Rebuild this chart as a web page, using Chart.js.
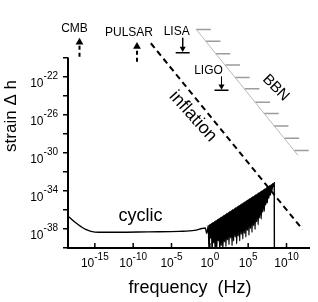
<!DOCTYPE html>
<html>
<head>
<meta charset="utf-8">
<script src="https://cdn.jsdelivr.net/npm/chart.js@4.4.0/dist/chart.umd.min.js"></script>
<style>
  html, body { margin: 0; padding: 0; background: #fff; }
  canvas { display: block; }
</style>
</head>
<body>
<canvas id="grafico" width="318" height="302"></canvas>
<script>
// all values are log10 exponents
const xTicks = [-15, -10, -5, 0, 5, 10];
const yTicks = [-40, -38, -36, -34, -32, -30, -28, -26, -24, -22, -20];
const yLabels = [-22, -26, -30, -34, -38];

// inflation (dashed)
const inflationF = [-7.7, 12.1];
const inflationH = [-18.5, -38.1];

// BBN bound (grey) and its hatches
const bbnF = [-1.77, 11.5];
const bbnH = [-17.05, -30.3];
const bbnHatchF = [-1.77, -0.51, 0.76, 2.03, 3.29, 4.56, 5.95, 7.09, 8.35, 9.75, 11.0];
const bbnHatchH = [-17.05, -18.3, -19.6, -20.8, -22.1, -23.3, -24.7, -25.9, -27.2, -28.5, -29.8];
const hatchLen = 1.9;

// cyclic model: smooth part
const cyclicF = [-18.5, -18.0, -17.4, -16.8, -16.2, -15.5, -14.5, -12.0, -8.0, -4.0, -2.0, -1.0, -0.6, -0.5, -0.42, -0.32];
const cyclicH = [-36.7, -37.05, -37.45, -37.8, -38.1, -38.3, -38.4, -38.4, -38.35, -38.3, -38.2, -38.0, -37.95, -38.2, -38.5, -38.3];
// cyclic model: oscillating part (peaks and dips)
const oscPeakF = [-0.2, 0.0, 0.2, 0.4, 0.6, 0.8, 1.0, 1.2, 1.4, 1.6, 1.8, 2.0, 2.2, 2.4, 2.6, 2.8, 3.0, 3.2, 3.4, 3.6, 3.8, 4.0,
  4.2, 4.4, 4.6, 4.8, 5.0, 5.2, 5.4, 5.6, 5.8, 6.0, 6.2, 6.4, 6.6, 6.8, 7.0, 7.2, 7.4, 7.6, 7.8, 8.0, 8.2, 8.4];
const oscPeakH = [-37.67, -37.57, -37.46, -37.36, -37.26, -37.15, -37.05, -36.94, -36.84, -36.73, -36.63, -36.52, -36.42,
  -36.31, -36.21, -36.10, -36.00, -35.90, -35.79, -35.69, -35.58, -35.48, -35.37, -35.27, -35.16, -35.06, -34.95, -34.85,
  -34.74, -34.64, -34.54, -34.43, -34.33, -34.22, -34.12, -34.01, -33.91, -33.80, -33.70, -33.59, -33.49, -33.38, -33.28, -33.17];
const oscDipF = [-0.1, 0.1, 0.3, 0.5, 0.7, 0.9, 1.1, 1.3, 1.5, 1.7, 1.9, 2.1, 2.3, 2.5, 2.7, 2.9, 3.1, 3.3, 3.5, 3.7, 3.9,
  4.1, 4.3, 4.5, 4.7, 4.9, 5.1, 5.3, 5.5, 5.7, 5.9, 6.1, 6.3, 6.5, 6.7, 6.9, 7.1, 7.3, 7.5, 7.7, 7.9, 8.1, 8.3];
const oscDipH = [-40.5, -39.0, -40.5, -39.5, -40.5, -40.2, -39.3, -40.5, -39.8, -40.3, -39.4, -39.9, -39.2, -39.7, -39.0,
  -39.8, -39.3, -38.9, -39.6, -38.8, -39.3, -38.6, -39.1, -38.5, -38.9, -38.2, -38.7, -38.0, -38.4, -37.7, -38.1, -37.3,
  -37.6, -36.9, -37.0, -36.3, -36.2, -35.5, -35.3, -34.8, -34.5, -34.0, -33.6];
const cutoffF = 8.42;
const cutoffH = -41;
// solid core of the oscillations (upper envelope and lower edge)
const coreTopF = [-0.2, 8.4];
const coreTopH = [-37.67, -33.17];
const coreLowF = [-0.2, 1.5, 3.0, 4.5, 6.0, 7.3, 8.4];
const coreLowH = [-38.5, -38.2, -37.8, -37.3, -36.6, -35.5, -33.17];

// upper limits (dashed arrows pointing up)
const limitNames = ["CMB", "PULSAR"];
const limitF = [-17.0, -9.5];
const limitHead = [-18.4, -18.83];
const limitBottom = [-19.93, -20.45];

// detector sensitivities (arrows pointing down onto a bar)
const detNames = ["LISA", "LIGO"];
const detF = [-3.54, 1.52];
const detTop = [-17.93, -22.02];
const detHead = [-19.04, -23.02];
const detBar = [-19.5, -23.44];

const FONT = "'Liberation Sans', Arial, Helvetica, sans-serif";

// building point lists
const pts = (fs, hs) => fs.map((f, i) => ({ x: f, y: hs[i] }));

const oscPts = [];
oscPeakF.forEach((f, i) => {
  oscPts.push({ x: f, y: oscPeakH[i] });
  if (i < oscDipF.length) oscPts.push({ x: oscDipF[i], y: oscDipH[i] });
});
const cyclicPts = pts(cyclicF, cyclicH).concat(oscPts, [{ x: cutoffF, y: cutoffH }]);

const hatchPts = [];
bbnHatchF.forEach((f, i) => {
  hatchPts.push({ x: f, y: bbnHatchH[i] }, { x: f + hatchLen, y: bbnHatchH[i] }, { x: f, y: null });
});

const limitStems = [];
limitF.forEach((f, i) => {
  limitStems.push({ x: f, y: limitBottom[i] }, { x: f, y: limitHead[i] }, { x: f, y: null });
});
const detStems = [];
detF.forEach((f, i) => {
  detStems.push({ x: f, y: detTop[i] }, { x: f, y: detHead[i] }, { x: f, y: null });
});

// text labels: 10 with superscript exponent
function drawPower(ctx, exp, left, base, supBase) {
  ctx.font = "12px " + FONT;
  ctx.fillText("10", left, base);
  const w = ctx.measureText("10").width;
  ctx.font = "10px " + FONT;
  ctx.fillText(String(exp), left + w, supBase);
}
function powerWidth(ctx, exp) {
  ctx.font = "12px " + FONT;
  const a = ctx.measureText("10").width;
  ctx.font = "10px " + FONT;
  return a + ctx.measureText(String(exp)).width;
}

const decorPlugin = {
  id: "decor",
  afterDatasetsDraw(chart) {
    const { ctx, chartArea, scales } = chart;
    const x = scales.x, y = scales.y;
    ctx.save();
    ctx.strokeStyle = "#000";
    ctx.fillStyle = "#000";

    // y axis line only goes up to 1e-20
    ctx.lineWidth = 2;
    ctx.beginPath();
    ctx.moveTo(chartArea.left, y.getPixelForValue(-20));
    ctx.lineTo(chartArea.left, chartArea.bottom + 1);
    ctx.stroke();

    // x ticks point inwards
    ctx.lineWidth = 1.5;
    xTicks.forEach(v => {
      const px = x.getPixelForValue(v);
      ctx.beginPath();
      ctx.moveTo(px, chartArea.bottom);
      ctx.lineTo(px, chartArea.bottom - 5);
      ctx.stroke();
    });

    ctx.textAlign = "left";
    ctx.textBaseline = "alphabetic";
    xTicks.forEach(v => {
      const px = x.getPixelForValue(v);
      const w = powerWidth(ctx, v);
      drawPower(ctx, v, px - w / 2, chartArea.bottom + 19, chartArea.bottom + 12);
    });
    yLabels.forEach(v => {
      const py = y.getPixelForValue(v);
      const w = powerWidth(ctx, v);
      drawPower(ctx, v, chartArea.left - 10 - w, py + 10, py + 2);
    });

    // arrow labels
    ctx.font = "12px " + FONT;
    ctx.textAlign = "center";
    const limitOff = [[-5, -9], [-8, -9]];
    limitNames.forEach((n, i) => {
      const px = x.getPixelForValue(limitF[i]);
      const py = y.getPixelForValue(limitHead[i]) - 4.5;
      ctx.textBaseline = "middle";
      ctx.fillText(n, px + limitOff[i][0], py + limitOff[i][1]);
    });
    const detOff = [[-6, -6], [-13, -6]];
    detNames.forEach((n, i) => {
      const px = x.getPixelForValue(detF[i]);
      const py = y.getPixelForValue(detTop[i]);
      ctx.fillText(n, px + detOff[i][0], py + detOff[i][1]);
    });

    // curve labels
    ctx.textBaseline = "alphabetic";
    ctx.textAlign = "left";
    ctx.font = "18px " + FONT;
    ctx.fillText("cyclic", x.getPixelForValue(-11.9), y.getPixelForValue(-37.22));

    ctx.textBaseline = "middle";
    ctx.textAlign = "center";
    ctx.save();
    ctx.translate(x.getPixelForValue(-2.2), y.getPixelForValue(-26.2));
    ctx.rotate(48 * Math.PI / 180);
    ctx.fillText("inflation", 0, 0);
    ctx.restore();

    ctx.save();
    ctx.font = "15px " + FONT;
    ctx.translate(x.getPixelForValue(8.6), y.getPixelForValue(-23.2));
    ctx.rotate(45 * Math.PI / 180);
    ctx.fillText("BBN", 0, 0);
    ctx.restore();

    // axis titles
    ctx.font = "18px " + FONT;
    ctx.fillText("frequency  (Hz)", 190, 288);
    ctx.save();
    ctx.translate(11, 116);
    ctx.rotate(-Math.PI / 2);
    ctx.font = "17px " + FONT;
    ctx.fillText("strain \u0394 h", 0, 0);
    ctx.restore();

    ctx.restore();
  }
};

const ctx = document.getElementById("grafico").getContext("2d");

const config = {
  type: "line",
  data: {
    datasets: [
      {
        data: pts(bbnF, bbnH),
        borderColor: "#b8b8b8",
        borderWidth: 1,
        pointRadius: 0,
      },
      {
        data: hatchPts,
        borderColor: "#9c9c9c",
        borderWidth: 1.5,
        pointRadius: 0,
        spanGaps: false,
      },
      {
        data: pts(inflationF, inflationH),
        borderColor: "#000",
        borderWidth: 2,
        borderDash: [6, 4],
        pointRadius: 0,
      },
      {
        data: pts(coreTopF, coreTopH),
        borderWidth: 0,
        pointRadius: 0,
        fill: "+1",
        backgroundColor: "#000",
      },
      {
        data: pts(coreLowF, coreLowH),
        borderWidth: 0,
        pointRadius: 0,
      },
      {
        data: cyclicPts,
        borderColor: "#000",
        borderWidth: 1.4,
        pointRadius: 0,
        cubicInterpolationMode: "monotone",
      },
      {
        data: limitStems,
        borderColor: "#000",
        borderWidth: 2,
        borderDash: [4, 3],
        pointRadius: 0,
        spanGaps: false,
      },
      {
        data: pts(limitF, limitHead),
        showLine: false,
        pointStyle: "triangle",
        pointRadius: 4.5,
        pointBorderWidth: 0,
        pointBackgroundColor: "#000",
      },
      {
        data: detStems,
        borderColor: "#000",
        borderWidth: 1,
        pointRadius: 0,
        spanGaps: false,
      },
      {
        data: pts(detF, detHead),
        showLine: false,
        pointStyle: "triangle",
        pointRotation: 180,
        pointRadius: 3.5,
        pointBorderWidth: 0,
        pointBackgroundColor: "#000",
      },
      {
        data: pts(detF, detBar),
        showLine: false,
        pointStyle: "line",
        pointRadius: 7,
        pointBorderWidth: 1.5,
        pointBorderColor: "#000",
      },
    ],
  },
  options: {
    responsive: false,
    animation: false,
    devicePixelRatio: 1,
    layout: { padding: { top: 10, right: 1, left: 0, bottom: 0 } },
    plugins: { legend: { display: false }, tooltip: { enabled: false } },
    scales: {
      x: {
        type: "linear",
        min: -18.5,
        max: 13.0,
        border: { display: true, width: 2, color: "#000" },
        grid: { drawOnChartArea: false, drawTicks: false },
        ticks: { display: false },
        afterFit: s => { s.height = 54; },
      },
      y: {
        type: "linear",
        min: -40.05,
        max: -15,
        border: { display: false },
        grid: { drawOnChartArea: false, drawTicks: true, tickLength: 5, color: "#000", lineWidth: 1.5 },
        ticks: { display: false },
        afterBuildTicks: s => { s.ticks = yTicks.map(v => ({ value: v })); },
        afterFit: s => { s.width = 68; },
      },
    },
  },
  plugins: [decorPlugin],
};

const chart = new Chart(ctx, config);
</script>
</body>
</html>
